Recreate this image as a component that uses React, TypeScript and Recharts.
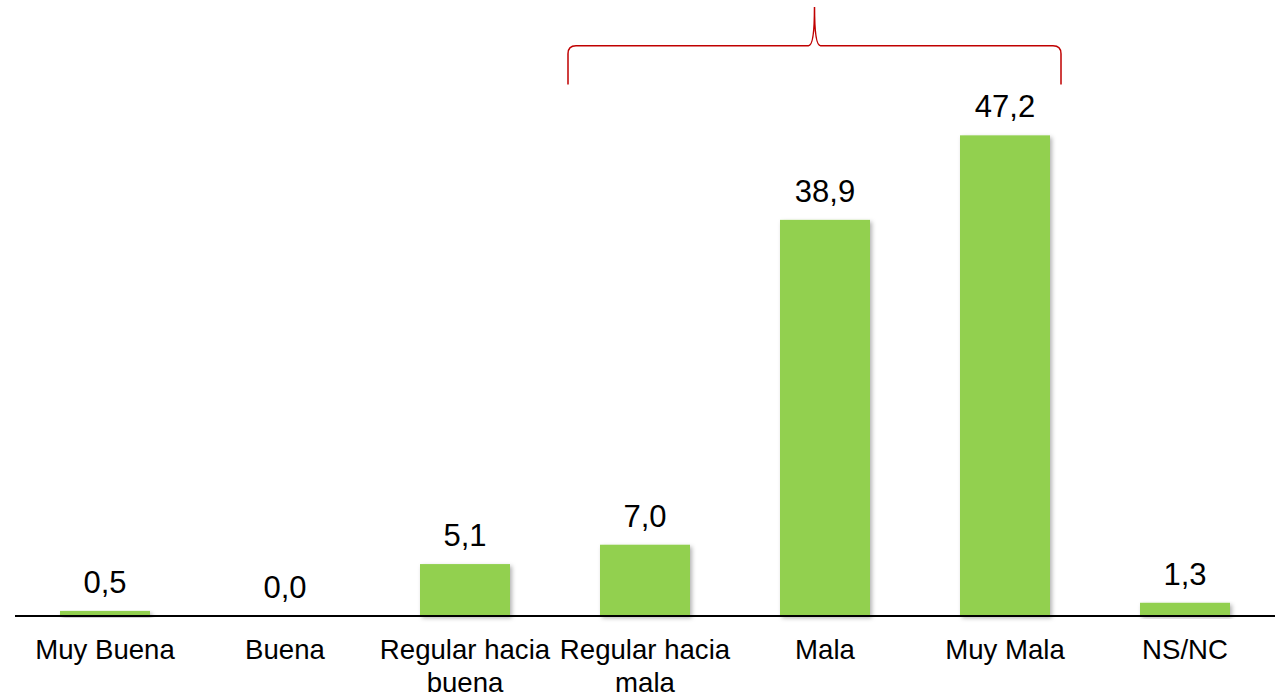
import React from 'react';
import { BarChart, Bar, XAxis, YAxis, LabelList, ReferenceArea } from 'recharts';

const categories = ['Muy Buena', 'Buena', 'Regular hacia buena', 'Regular hacia mala', 'Mala', 'Muy Mala', 'NS/NC'];
const values = [0.5, 0.0, 5.1, 7.0, 38.9, 47.2, 1.3];
// the brace groups the negative answers
const braceFrom = 'Regular hacia mala';
const braceTo = 'Muy Mala';

const data = categories.map((c, i) => ({ name: c, value: values[i] }));

const FONT = '"Liberation Sans", Arial, sans-serif';

const fmt = (v: any) => Number(v).toFixed(1).replace('.', ',');

function wrap(label: string): string[] {
  if (label.length <= 12) return [label];
  const i = label.lastIndexOf(' ');
  return [label.slice(0, i), label.slice(i + 1)];
}

const CategoryTick = (props: any) => {
  const { x, y, payload } = props;
  const lines = wrap(String(payload.value));
  return (
    <text x={x} y={y} textAnchor="middle" fontFamily={FONT} fontSize={27.6} fill="#000">
      {lines.map((l, i) => (
        <tspan key={i} x={x} dy={i === 0 ? 35 : 33}>{l}</tspan>
      ))}
    </text>
  );
};

const ShadowBar = (props: any) => {
  const { x, y, width, height, fill } = props;
  if (!height || height <= 0) return null;
  return <rect x={x} y={y} width={width} height={height} fill={fill} filter="url(#barShadow)" />;
};

const Brace = (props: any) => {
  const { x, y, width, height } = props;
  const x0 = x + 13;
  const x1 = x + width - 34;
  const xm = (x0 + x1) / 2;
  const top = y;
  const bottom = y + height;
  const ym = top + height / 2;
  const r = 8;
  const d = `M${x0},${bottom} L${x0},${ym + r} Q${x0},${ym} ${x0 + r},${ym} L${xm - 6},${ym} Q${xm},${ym} ${xm},${top}` +
    ` Q${xm},${ym} ${xm + 6},${ym} L${x1 - r},${ym} Q${x1},${ym} ${x1},${ym + r} L${x1},${bottom}`;
  return <path d={d} fill="none" stroke="#C00000" strokeWidth={1.5} />;
};

export default function App() {
  return (
    <div style={{ position: 'absolute', left: 0, top: 0, width: 1283, height: 695, background: '#fff' }}>
      <BarChart width={1283} height={695} data={data} margin={{ top: 5, right: 8, left: 15, bottom: 0 }} barSize={90}>
        <defs>
          <filter id="barShadow" x="-10%" y="-10%" width="130%" height="130%">
            <feDropShadow dx="2" dy="2" stdDeviation="2" floodColor="#000" floodOpacity="0.3" />
          </filter>
        </defs>
        <XAxis
          dataKey="name"
          height={79}
          axisLine={{ stroke: '#000', strokeWidth: 2 }}
          tickLine={false}
          interval={0}
          tick={<CategoryTick />}
        />
        <YAxis hide domain={[0, 60]} />
        <ReferenceArea
          x1={braceFrom}
          x2={braceTo}
          y1={52.2}
          y2={59.8}
          ifOverflow="visible"
          shape={<Brace />}
        />
        <Bar dataKey="value" fill="#92D050" shape={<ShadowBar />} isAnimationActive={false}>
          <LabelList
            dataKey="value"
            position="top"
            offset={18}
            formatter={fmt}
            style={{ fontFamily: FONT, fontSize: 31, fill: '#000' }}
          />
        </Bar>
      </BarChart>
    </div>
  );
}
